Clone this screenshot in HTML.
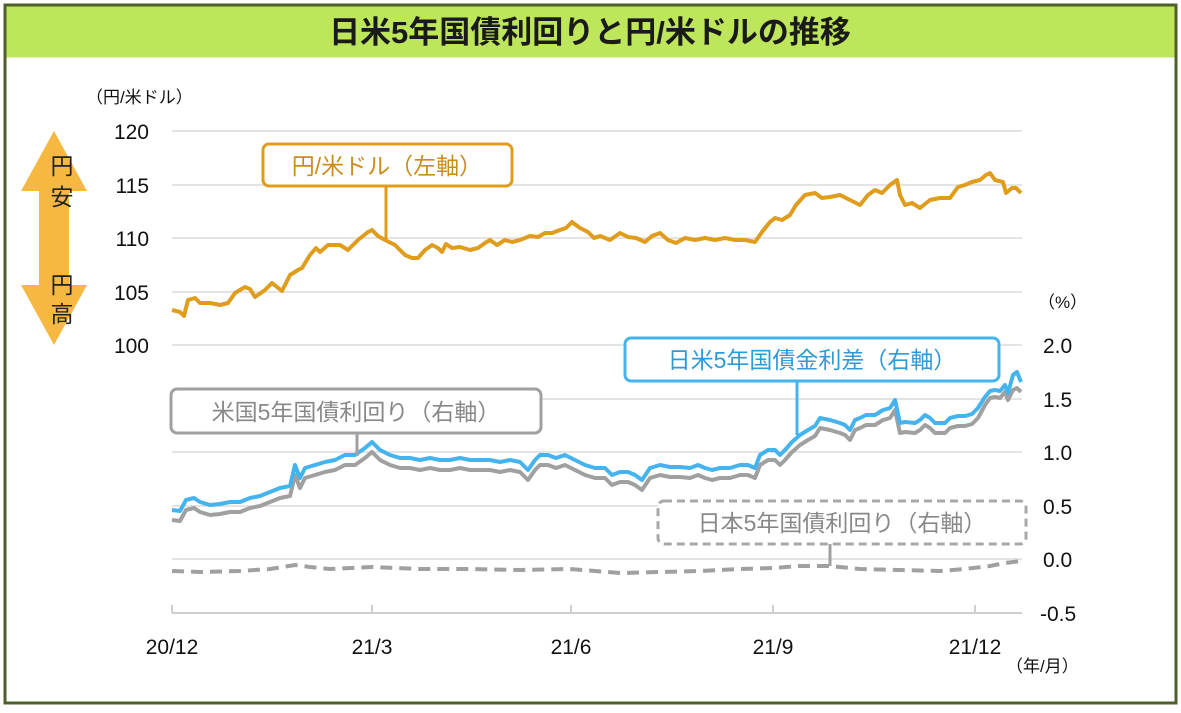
<!DOCTYPE html>
<html><head><meta charset="utf-8"><style>
body{margin:0;background:#fff;width:1181px;height:708px;overflow:hidden;font-family:"Liberation Sans","Noto Sans CJK JP",sans-serif}
</style></head><body>
<svg width="1181" height="708" xmlns="http://www.w3.org/2000/svg" font-family="Liberation Sans, Noto Sans CJK JP, sans-serif">
<rect x="0" y="0" width="1181" height="708" fill="#fff"/>
<rect x="5" y="5" width="1171" height="698" fill="#fff" stroke="#4f5f2c" stroke-width="3"/>
<rect x="6.5" y="6.5" width="1168" height="51" fill="#bde65a"/>
<text x="590" y="43" text-anchor="middle" font-size="31" font-weight="bold" fill="#1a1a1a">日米5年国債利回りと円/米ドルの推移</text>
<g stroke="#dcdcdc" stroke-width="1.5">
<line x1="172" y1="131" x2="1022" y2="131"/><line x1="172" y1="185" x2="1022" y2="185"/>
<line x1="172" y1="238" x2="1022" y2="238"/><line x1="172" y1="292" x2="1022" y2="292"/>
<line x1="172" y1="345" x2="1022" y2="345"/><line x1="172" y1="399" x2="1022" y2="399"/>
<line x1="172" y1="452" x2="1022" y2="452"/><line x1="172" y1="506" x2="1022" y2="506"/>
<line x1="172" y1="559" x2="1022" y2="559"/>
</g>
<g stroke="#cfcfcf" stroke-width="2">
<line x1="172" y1="613" x2="1022" y2="613"/>
<line x1="172" y1="605" x2="172" y2="613"/><line x1="372" y1="605" x2="372" y2="613"/>
<line x1="571" y1="605" x2="571" y2="613"/><line x1="773" y1="605" x2="773" y2="613"/>
<line x1="975" y1="605" x2="975" y2="613"/>
</g>
<g font-size="21" fill="#111" text-anchor="end">
<text x="149" y="139">120</text><text x="149" y="193">115</text><text x="149" y="246">110</text>
<text x="149" y="300">105</text><text x="149" y="353">100</text>
</g>
<g font-size="21" fill="#111">
<text x="1043" y="353">2.0</text><text x="1043" y="407">1.5</text><text x="1043" y="460">1.0</text>
<text x="1043" y="514">0.5</text><text x="1043" y="567">0.0</text><text x="1040" y="621">-0.5</text>
</g>
<g font-size="21" fill="#111" text-anchor="middle">
<text x="172" y="654">20/12</text><text x="372" y="654">21/3</text><text x="571" y="654">21/6</text>
<text x="773" y="654">21/9</text><text x="975" y="654">21/12</text>
</g>
<text x="86" y="103" font-size="17" fill="#111">（円/米ドル）</text>
<text x="1038" y="308" font-size="17" fill="#111">（%）</text>
<text x="1006" y="672" font-size="17" fill="#111">（年/月）</text>
<polygon points="54,131 87,191 69,191 69,285 87,285 54,345 21,285 39,285 39,191 21,191" fill="#f6b840"/>
<g font-size="23" fill="#222" text-anchor="middle">
<text x="62" y="174">円</text><text x="62" y="205">安</text>
<text x="62" y="293">円</text><text x="62" y="322">高</text>
</g>
<polyline fill="none" stroke="#a0a0a0" stroke-width="4" stroke-dasharray="12 7" points="172,571 200,572 240,571 270,569 295,565 310,567 330,569 372,567 420,569 470,569 520,570 570,569 620,573 660,572 700,571 740,569 773,568 800,566 830,566 860,569 900,570 940,571 965,569 990,566 1005,563 1021,561"/>
<polyline fill="none" stroke="#a0a0a0" stroke-width="4" stroke-linejoin="round" points="172,520 180,521 186,510 194,508 200,512 210,515 220,514 230,512 240,512 250,508 260,506 270,502 280,498 290,496 295,475 300,488 305,478 315,475 325,472 335,470 345,465 355,465 365,458 372,452 380,460 390,465 400,468 410,468 420,470 430,468 440,470 450,470 460,468 470,470 480,470 490,470 500,472 510,470 520,472 528,480 535,470 540,465 548,465 556,468 565,465 575,470 585,475 595,478 605,478 612,485 620,482 628,482 635,485 642,490 650,478 660,475 670,477 680,477 690,478 698,475 705,478 712,480 720,478 730,478 740,475 748,475 755,478 760,465 768,460 775,460 780,465 785,460 792,452 800,445 808,440 815,436 820,428 830,430 840,433 845,435 850,440 855,430 860,428 866,425 875,425 883,420 890,418 895,410 900,433 905,432 915,433 920,430 925,425 930,428 935,433 945,433 950,428 958,426 965,426 972,424 978,418 985,405 990,398 995,397 1000,398 1005,392 1008,400 1013,390 1017,388 1021,392"/>
<polyline fill="none" stroke="#45b4ee" stroke-width="4" stroke-linejoin="round" transform="translate(0,-10)" points="172,520 180,521 186,510 194,508 200,512 210,515 220,514 230,512 240,512 250,508 260,506 270,502 280,498 290,496 295,475 300,488 305,478 315,475 325,472 335,470 345,465 355,465 365,458 372,452 380,460 390,465 400,468 410,468 420,470 430,468 440,470 450,470 460,468 470,470 480,470 490,470 500,472 510,470 520,472 528,480 535,470 540,465 548,465 556,468 565,465 575,470 585,475 595,478 605,478 612,485 620,482 628,482 635,485 642,490 650,478 660,475 670,477 680,477 690,478 698,475 705,478 712,480 720,478 730,478 740,475 748,475 755,478 760,465 768,460 775,460 780,465 785,460 792,452 800,445 808,440 815,436 820,428 830,430 840,433 845,435 850,440 855,430 860,428 866,425 875,425 883,420 890,418 895,410 900,433 905,432 915,433 920,430 925,425 930,428 935,433 945,433 950,428 958,426 965,426 972,424 978,418 985,407 990,401 995,400 1000,401 1005,395 1008,403 1013,385 1017,382 1021,392"/>
<polyline fill="none" stroke="#e09c1c" stroke-width="4" stroke-linejoin="round" points="172,310 180,312 184,316 188,300 195,298 200,303 210,303 220,305 228,303 235,293 245,287 250,289 255,297 265,290 272,283 282,291 290,275 298,270 302,268 310,255 316,248 320,252 328,245 340,245 348,250 358,240 368,232 372,230 378,236 385,240 395,245 405,255 412,258 418,258 425,250 432,245 438,248 442,252 446,244 452,248 460,247 470,250 478,248 485,243 490,240 497,245 505,240 512,242 520,240 530,236 538,237 545,233 552,233 560,230 566,228 572,222 580,228 588,232 594,238 600,236 610,240 620,233 628,237 636,238 645,242 652,236 660,233 668,240 676,243 685,238 695,240 705,238 715,240 725,238 735,240 745,240 755,242 762,232 770,222 775,218 782,220 790,215 796,205 805,195 815,193 822,198 830,197 840,195 850,200 860,205 868,195 875,190 882,193 890,185 897,180 900,195 905,205 912,203 920,208 930,200 940,198 950,198 958,187 965,185 972,182 980,180 986,175 990,173 995,180 1003,182 1006,193 1012,188 1016,188 1021,193"/>
<line x1="386" y1="186" x2="386" y2="240" stroke="#e09c1c" stroke-width="3"/>
<rect x="263" y="144" width="249" height="42" rx="6" fill="#fff" stroke="#e09c1c" stroke-width="3"/>
<text x="387" y="174" text-anchor="middle" font-size="23" fill="#c98d1c">円/米ドル（左軸）</text>
<line x1="797" y1="381" x2="797" y2="435" stroke="#45b4ee" stroke-width="3"/>
<rect x="625" y="338" width="374" height="43" rx="6" fill="#fff" stroke="#45b4ee" stroke-width="3"/>
<text x="812" y="368" text-anchor="middle" font-size="23" fill="#2e9ad6">日米5年国債金利差（右軸）</text>
<line x1="357" y1="433" x2="357" y2="456" stroke="#a0a0a0" stroke-width="3"/>
<rect x="171" y="389" width="370" height="44" rx="6" fill="#fff" stroke="#a0a0a0" stroke-width="3"/>
<text x="356" y="420" text-anchor="middle" font-size="23" fill="#888">米国5年国債利回り（右軸）</text>
<line x1="830" y1="544" x2="830" y2="566" stroke="#a0a0a0" stroke-width="3"/>
<rect x="658" y="501" width="368" height="43" rx="6" fill="#fff" stroke="#a8a8a8" stroke-width="3" stroke-dasharray="8 5"/>
<text x="842" y="531" text-anchor="middle" font-size="23" fill="#888">日本5年国債利回り（右軸）</text>
</svg>
</body></html>
